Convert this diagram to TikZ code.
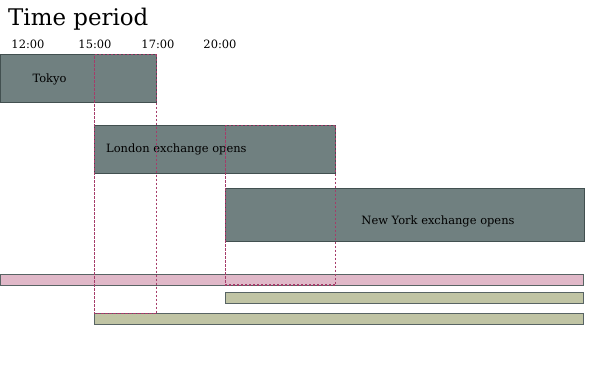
\documentclass[tikz,border=0pt]{standalone}
\usepackage{fontspec}
\setmainfont{DejaVu Serif}
\definecolor{slate}{RGB}{112,128,128}
\definecolor{slateline}{RGB}{66,80,80}
\definecolor{rosebar}{RGB}{224,184,200}
\definecolor{olivebar}{RGB}{192,196,164}
\definecolor{barline}{RGB}{88,100,100}
\definecolor{overlapline}{RGB}{165,60,105}

\begin{document}
\begin{tikzpicture}[x=1bp, y=-1bp,
    session/.style={draw=slateline, fill=slate, line width=0.8bp, anchor=north west, inner sep=0pt, outer sep=0pt},
    bar/.style={draw=barline, line width=0.8bp, anchor=north west, inner sep=0pt, outer sep=0pt, minimum height=10.5bp},
    overlap/.style={draw=overlapline, dash pattern=on 2.5bp off 1.5bp, line width=1.1bp},
    lbl/.style={font=\fontsize{11.5}{14}\selectfont, inner sep=0pt}]
  \useasboundingbox (0,0) rectangle (600,366);
  \node[anchor=base west, inner sep=0pt, font=\fontsize{23}{28}\selectfont] (title) at (8,25) {Time period};
  \node[lbl, anchor=base] (t12) at (28,48.5) {12:00};
  \node[lbl, anchor=base] (t15) at (95,48.5) {15:00};
  \node[lbl, anchor=base] (t17) at (158,48.5) {17:00};
  \node[lbl, anchor=base] (t20) at (220,48.5) {20:00};
  \node[session, minimum width=156bp, minimum height=48bp] (tokyo) at (0.5,54.5) {};
  \node[session, minimum width=241bp, minimum height=48bp] (london) at (94.5,125.5) {};
  \node[session, minimum width=359bp, minimum height=53bp] (newyork) at (225.5,188.5) {};
  \node[lbl, anchor=base] (tokyolbl) at (49.5,82) {Tokyo};
  \node[lbl, anchor=base west] (londonlbl) at (106,152) {London exchange opens};
  \node[lbl, anchor=base] (newyorklbl) at (438,224) {New York exchange opens};
  \node[bar, fill=rosebar, minimum width=583bp] (asia) at (0.5,274.5) {};
  \node[bar, fill=olivebar, minimum width=358bp] (america) at (225.5,292.5) {};
  \node[bar, fill=olivebar, minimum width=489bp] (europe) at (94.5,313.5) {};
  \draw[overlap] (tokyo.east |- tokyo.north) rectangle (london.north west |- europe.north);
  \draw[overlap] (london.east |- london.north) rectangle (newyork.west |- asia.south);
\end{tikzpicture}
\end{document}
